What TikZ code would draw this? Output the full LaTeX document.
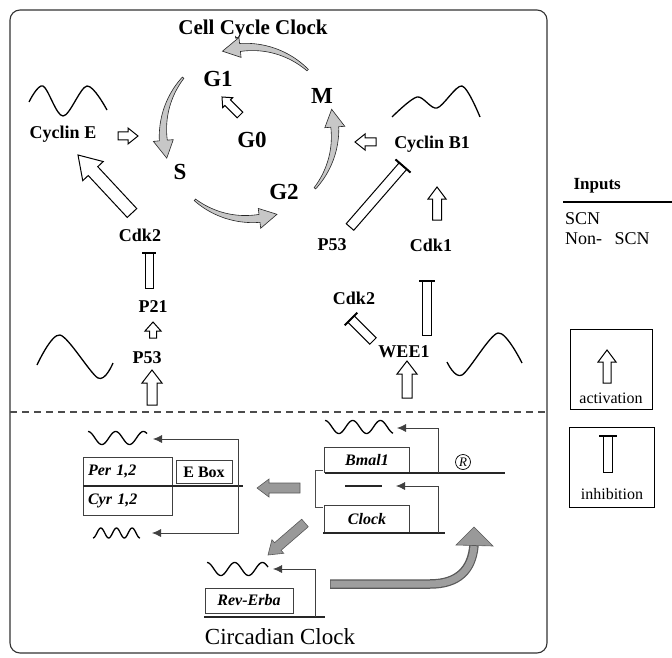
\documentclass[tikz,border=0pt]{standalone}
\usepackage{fontspec}
\setmainfont{Liberation Serif}
\usetikzlibrary{calc,arrows.meta}
\tikzset{
 lbl/.style={font=\bfseries\fontsize{18}{19}\selectfont, inner sep=0pt},
 phase/.style={font=\bfseries\fontsize{23}{24}\selectfont, inner sep=0pt},
 blk/.style={draw=black, fill=white, line width=1pt, line join=miter},
 cyc/.style={draw=black!85, fill=black!22, line width=0.6pt},
 wave/.style={line width=1.3pt, line join=round},
 gene/.style={font=\bfseries\itshape\fontsize{16}{17}\selectfont, draw=black!75, line width=0.7pt, inner sep=0pt},
 gline/.style={line width=1.8pt, black!85},
 reg/.style={draw=black!75, line width=0.8pt, -{Latex[length=9pt,width=8pt]}},
 grayarr/.style={draw=black!65, fill=black!40, line width=0.6pt},
}
% block activation arrow: tail, tip, shaft half width, head half width, head length
\newcommand\actarrow[6][blk]{%
 \coordinate (tmpH) at ($(#3)!#6!(#2)$);
 \draw[#1] ($(#2)!#4!90:(#3)$) -- ($(tmpH)!#4!-90:(#2)$) -- ($(tmpH)!#5!-90:(#2)$) -- (#3)
  -- ($(tmpH)!#5!90:(#2)$) -- ($(tmpH)!#4!90:(#2)$) -- ($(#2)!#4!-90:(#3)$) -- cycle;}
% inhibition: tail, end, shaft half width, bar half width
\newcommand\inharrow[4]{%
 \draw[blk] ($(#1)!#3!90:(#2)$) -- ($(#2)!#3!-90:(#1)$) -- ($(#2)!#3!90:(#1)$) -- ($(#1)!#3!-90:(#2)$) -- cycle;
 \draw[line width=2pt] ($(#2)!#4!-90:(#1)$) -- ($(#2)!#4!90:(#1)$);}
% tapered curved cycle arrow (inside shifted scope): tail angle, tip angle
\newcommand\cycarrow[2]{%
 \pgfmathsetmacro\hb{#2+12}
 \draw[cyc] plot[domain=#1:\hb, samples=24] (\x:{87+3*(#1-\x)/(#1-\hb)}) -- (\hb:96) -- (#2:86) -- (\hb:76)
  -- plot[domain=\hb:#1, samples=24] (\x:{85-3*(#1-\x)/(#1-\hb)}) -- cycle;}
\begin{document}
\begin{tikzpicture}[x=1pt,y=-1pt]
\useasboundingbox (0,0) rectangle (672,658);
\fill[white] (0,0) rectangle (672,658);
% frame
\draw[line width=1.1pt, black!80, rounded corners=10pt] (10,10) rectangle (547,653);
\draw[line width=1.1pt, black!70, dash pattern=on 7pt off 5pt] (10,412) -- (547,412);

% ---------- cell cycle clock ----------
\node[font=\bfseries\fontsize{21}{22}\selectfont] (cct) at (253,29) {Cell Cycle Clock};
\node[phase] (g1) at (218,79) {G1};
\node[phase] (m) at (322,96) {M};
\node[phase] (g0) at (252,140) {G0};
\node[phase] (s) at (180,172) {S};
\node[phase] (g2) at (284,192) {G2};
\begin{scope}[shift={(249,133)}]
 \cycarrow{220}{163}
 \cycarrow{129}{71}
 \cycarrow{40}{-16}
 \cycarrow{-47}{-108}
\end{scope}
\coordinate (g0t) at (240,115);
\coordinate (g0h) at (222,97);
\actarrow{g0t}{g0h}{4pt}{7pt}{8pt}

% left branch
\draw[wave] plot[smooth, tension=0.55] coordinates {(29,102) (43,86) (63,116) (87,86) (107,110)};
\node[lbl] (cyce) at (63,134) {Cyclin E};
\coordinate (cea) at (118,136);
\coordinate (ceb) at (138,136);
\actarrow{cea}{ceb}{4pt}{8pt}{10pt}
\node[lbl] (cdk2l) at (140,235) {Cdk2};
\coordinate (bigt) at (132,213);
\coordinate (bigh) at (78,155);
\actarrow{bigt}{bigh}{6.5pt}{14pt}{22pt}
\coordinate (i1a) at (149,288);
\coordinate (i1b) at (149,253);
\inharrow{i1a}{i1b}{4pt}{7pt}
\node[lbl] (p21) at (153,307) {P21};
\coordinate (a1a) at (153,338);
\coordinate (a1b) at (153,322);
\actarrow{a1a}{a1b}{3.5pt}{8pt}{9pt}
\node[lbl] (p53l) at (147,358) {P53};
\draw[wave] plot[smooth, tension=0.5] coordinates {(37,365) (60,335) (98,378) (113,363)};
\coordinate (a2a) at (152,405);
\coordinate (a2b) at (152,370);
\actarrow{a2a}{a2b}{5pt}{10pt}{13pt}

% right branch
\draw[wave] plot[smooth, tension=0.5] coordinates {(392,117) (417,97) (437,108) (462,86) (480,117)};
\node[lbl] (cycb) at (432,144) {Cyclin B1};
\coordinate (cba) at (376,142);
\coordinate (cbb) at (355,142);
\actarrow{cba}{cbb}{4pt}{8pt}{10pt}
\node[lbl] (p53r) at (332,245) {P53};
\coordinate (i2a) at (350,227);
\coordinate (i2b) at (403,166);
\inharrow{i2a}{i2b}{5pt}{10pt}
\coordinate (a3a) at (437,220);
\coordinate (a3b) at (437,187);
\actarrow{a3a}{a3b}{4.5pt}{9pt}{12pt}
\node[lbl] (cdk1) at (431,245) {Cdk1};
\coordinate (i3a) at (427,335);
\coordinate (i3b) at (427,281);
\inharrow{i3a}{i3b}{4.5pt}{8pt}
\node[lbl] (cdk2r) at (354,298) {Cdk2};
\coordinate (i4a) at (373,341);
\coordinate (i4b) at (351,319);
\inharrow{i4a}{i4b}{4.5pt}{9pt}
\node[lbl] (wee1) at (404,352) {WEE1};
\coordinate (a4a) at (407,398);
\coordinate (a4b) at (407,361);
\actarrow{a4a}{a4b}{5pt}{10pt}{13pt}
\draw[wave] plot[smooth, tension=0.5] coordinates {(447,362) (462,375) (498,333) (522,363)};

% ---------- circadian clock ----------
\node[gene, minimum width=89pt, minimum height=29pt, text width=80pt, align=left] (per) at (128,471.5) {Per 1,2};
\node[gene, minimum width=89pt, minimum height=29pt, text width=80pt, align=left] (cyr) at (128,500.5) {Cyr 1,2};
\node[gene, font=\bfseries\fontsize{16}{17}\selectfont, minimum width=56pt, minimum height=23pt] (ebox) at (204,472) {E Box};
\draw[gline] (83,486) -- (243,486);
\draw[wave] plot[domain=0:59, samples=80] ({88+\x}, {438-6.5*cos(\x*13)});
\draw[wave] plot[domain=0:47, samples=60] ({93+\x}, {533+5*cos(\x*23)});
\coordinate (ereg) at (238,486);
\coordinate (pw) at (153,439);
\coordinate (cw) at (152,533);
\draw[reg] (ereg) |- (pw);
\draw[reg] (ereg) |- (cw);
\coordinate (ga1) at (300,488);
\coordinate (ga2) at (257,488);
\actarrow[grayarr]{ga1}{ga2}{5pt}{9pt}{12pt}

\node[gene, minimum width=85pt, minimum height=25pt] (bmal) at (367,460) {Bmal1};
\node[gene, minimum width=85pt, minimum height=28pt] (clk) at (367,519) {Clock};
\draw[gline] (325,473) -- (505,473);
\draw[gline] (323,533) -- (445,533);
\draw[gline, line width=2pt] (345,486) -- (382,486);
\draw[black!70, line width=0.7pt] (323,470) -- (315,470) -- (315,507) -- (323,507);
\node[draw, circle, minimum size=15pt, inner sep=0pt, line width=0.7pt, font=\itshape\fontsize{13}{13}\selectfont] (rsym) at (463,462) {R};
\draw[wave] plot[domain=0:68, samples=80] ({325+\x}, {427-6.5*cos(\x*13)});
\coordinate (breg) at (438,473);
\coordinate (bw) at (397,428);
\draw[reg] (breg) |- (bw);
\coordinate (creg) at (438,533);
\coordinate (cm) at (396,486);
\draw[reg] (creg) |- (cm);
\coordinate (gb1) at (305,523);
\coordinate (gb2) at (268,555);
\actarrow[grayarr]{gb1}{gb2}{5pt}{9pt}{13pt}

\node[gene, minimum width=88pt, minimum height=25pt] (rev) at (249,600.5) {Rev-Erba};
\draw[gline] (204,617) -- (325,617);
\draw[wave] plot[domain=0:61, samples=80] ({207+\x}, {569-6.5*cos(\x*13)});
\coordinate (rreg) at (315,617);
\coordinate (rw) at (273,569);
\draw[reg] (rreg) |- (rw);
% curved gray arrow
\coordinate (cs) at (330,584);
\coordinate (ce) at (474,545);
\draw[black!65, line width=9.5pt] (cs) -- (430,584) .. controls (458,584) and (472,570) .. (ce);
\draw[black!38, line width=7pt] ($(cs)+(0.6,0)$) -- (430,584) .. controls (458,584) and (472,570) .. ($(ce)+(0,1)$);
\draw[grayarr] (456,545) -- (474,527) -- (493,546) -- cycle;

\node[font=\fontsize{23}{24}\selectfont] (cct2) at (280,637) {Circadian Clock};

% ---------- legend ----------
\node[font=\bfseries\fontsize{17}{18}\selectfont, anchor=west] (inp) at (570,186) {Inputs};
\draw[line width=2.5pt] (563,202) -- (672,202);
\node[font=\fontsize{18}{19}\selectfont, anchor=west, inner sep=0pt] (scn) at (565,219) {SCN};
\node[font=\fontsize{18}{19}\selectfont, anchor=west, inner sep=0pt] (nscn) at (565,239) {Non- \hspace{8pt}SCN};
\node[draw, line width=1pt, minimum width=82pt, minimum height=80pt] (actbox) at (611,369) {};
\coordinate (la1) at (607,383);
\coordinate (la2) at (607,350);
\actarrow{la1}{la2}{4pt}{9pt}{12pt}
\node[font=\fontsize{16}{17}\selectfont] (acttxt) at (611,398) {activation};
\node[draw, line width=1pt, minimum width=85pt, minimum height=80pt] (inhbox) at (612,467) {};
\coordinate (li1) at (608,472);
\coordinate (li2) at (608,436);
\inharrow{li1}{li2}{4.5pt}{9pt}
\node[font=\fontsize{16}{17}\selectfont] (inhtxt) at (612,494) {inhibition};
\end{tikzpicture}
\end{document}
